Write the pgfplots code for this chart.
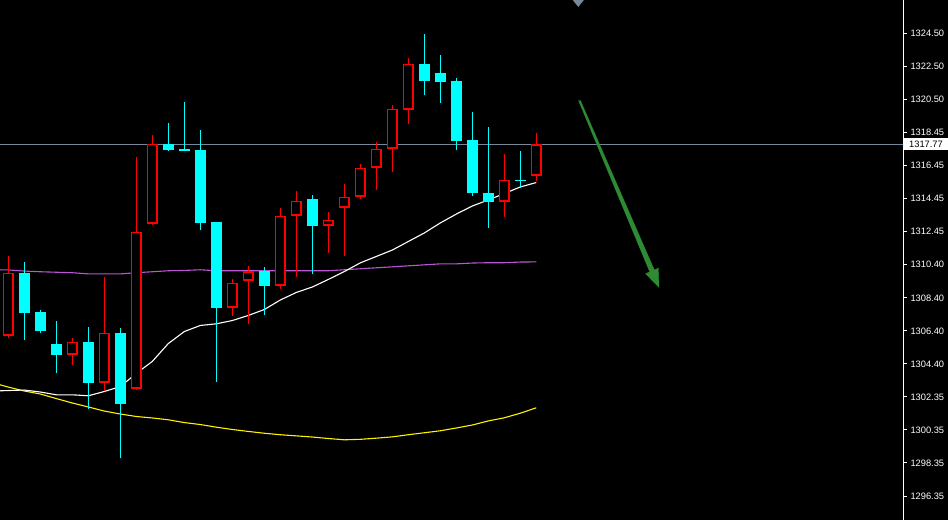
\documentclass[border=0pt]{standalone}
\usepackage{pgfplots}
\pgfplotsset{compat=1.18}
\usepackage{pgfplotstable}
\usepackage{fontspec}
\setmainfont{Liberation Sans}
\definecolor{upc}{RGB}{255,0,0}
\definecolor{dnc}{RGB}{0,255,255}
\definecolor{mapurple}{RGB}{186,85,211}
\definecolor{slate}{RGB}{119,136,153}
\definecolor{arrowgreen}{RGB}{46,139,52}

\pgfplotstableread{
i o h l c
0 1306.10 1310.93 1305.98 1309.94
4 1304.94 1305.94 1304.31 1305.74
6 1303.24 1309.65 1302.73 1306.28
8 1302.87 1317.01 1302.83 1312.43
9 1312.92 1318.35 1312.83 1317.79
14 1307.80 1309.57 1307.31 1309.33
15 1309.45 1310.32 1306.81 1310.03
17 1309.14 1313.85 1308.94 1313.40
18 1313.40 1314.94 1309.67 1314.32
20 1312.80 1313.61 1311.13 1313.16
21 1313.89 1315.37 1310.95 1314.56
22 1314.56 1316.57 1314.41 1316.33
23 1316.33 1317.87 1314.97 1317.48
24 1317.48 1320.12 1316.06 1319.92
25 1319.86 1322.98 1318.98 1322.66
31 1314.26 1317.14 1313.32 1315.60
33 1315.84 1318.47 1315.53 1317.77
}\upcandles

\pgfplotstableread{
i o h l c
1 1309.95 1310.62 1305.86 1307.48
2 1307.52 1307.70 1306.26 1306.38
3 1305.63 1307.03 1303.82 1304.92
5 1305.75 1306.61 1301.63 1303.22
7 1306.30 1306.55 1298.65 1301.94
10 1317.80 1319.06 1317.34 1317.40
11 1317.50 1320.36 1317.32 1317.34
12 1317.38 1318.60 1312.53 1312.95
13 1313.00 1313.00 1303.28 1307.78
16 1310.03 1310.26 1307.35 1309.12
19 1314.40 1314.70 1309.85 1312.77
26 1322.67 1324.50 1320.73 1321.64
27 1322.07 1323.22 1320.26 1321.54
28 1321.58 1321.82 1317.40 1317.94
29 1317.99 1319.75 1314.60 1314.78
30 1314.82 1318.84 1312.67 1314.23
32 1315.61 1317.32 1315.08 1315.51
}\dncandles

\pgfplotstableread{
i w p y
-0.6 1302.75 1310.12 1303.14
0 1302.77 1310.11 1302.98
1 1302.80 1310.04 1302.74
2 1302.68 1310.00 1302.56
3 1302.51 1309.97 1302.28
4 1302.51 1309.94 1302.01
5 1302.45 1309.87 1301.77
6 1302.71 1309.87 1301.52
7 1303.01 1309.87 1301.34
8 1303.81 1309.94 1301.19
9 1304.54 1310.00 1301.10
10 1305.63 1310.06 1300.99
11 1306.36 1310.08 1300.82
12 1306.73 1310.12 1300.70
13 1306.83 1310.06 1300.54
14 1307.03 1310.06 1300.40
15 1307.34 1310.06 1300.28
16 1307.70 1310.06 1300.17
17 1308.28 1310.06 1300.08
18 1308.74 1310.06 1300.01
19 1309.07 1310.06 1299.94
20 1309.53 1310.06 1299.85
21 1310.01 1310.12 1299.77
22 1310.54 1310.18 1299.80
23 1310.93 1310.24 1299.87
24 1311.32 1310.30 1299.95
25 1311.84 1310.36 1300.08
26 1312.36 1310.42 1300.20
27 1312.97 1310.48 1300.32
28 1313.51 1310.48 1300.49
29 1314.00 1310.53 1300.67
30 1314.37 1310.55 1300.92
31 1314.76 1310.55 1301.11
32 1315.16 1310.59 1301.39
33 1315.43 1310.60 1301.72
}\mas

\begin{document}
\begin{tikzpicture}
\fill[black] (0,0) rectangle (948pt,519pt);
\begin{axis}[
  at={(0,0)}, anchor=south west,
  scale only axis, width=903pt, height=519pt,
  xmin=-0.519, xmax=55.92, ymin=1294.92, ymax=1326.51,
  axis x line=none,
  axis y line*=right,
  y axis line style={draw=white, line width=1pt},
  xtick=\empty,
  ytick={1324.500,1322.489,1320.479,1318.468,1316.457,1314.447,1312.436,1310.425,1308.414,1306.404,1304.393,1302.382,1300.371,1298.361,1296.350},
  yticklabels={1324.50,1322.50,1320.50,1318.45,1316.45,1314.45,1312.45,1310.40,1308.40,1306.40,1304.40,1302.35,1300.35,1298.35,1296.35},
  tick align=outside, major tick length=3.5pt,
  y tick style={draw=white, line width=1pt},
  yticklabel style={font=\fontsize{9.3}{11}\selectfont, text=white, anchor=west, xshift=0.5pt},
  clip=true, clip marker paths=true,
]
% current price line
\addplot[draw=slate, line width=1.1pt, forget plot] coordinates {(-1,1317.77) (57,1317.77)};
% moving averages
\addplot[draw=yellow, line width=1.1pt, forget plot] table[x=i, y=y] {\mas};
\addplot[draw=mapurple, line width=1.1pt, forget plot] table[x=i, y=p] {\mas};
\addplot[draw=white, line width=1.1pt, forget plot] table[x=i, y=w] {\mas};
% wicks
\addplot[forget plot, draw=none, mark=none, error bars/.cd, y dir=plus, y explicit, error mark=none,
  error bar style={draw=upc, line width=1.4pt}]
  table[x=i, y=l, y error plus expr=\thisrow{h}-\thisrow{l}] {\upcandles};
\addplot[forget plot, draw=none, mark=none, error bars/.cd, y dir=plus, y explicit, error mark=none,
  error bar style={draw=dnc, line width=1.4pt}]
  table[x=i, y=l, y error plus expr=\thisrow{h}-\thisrow{l}] {\dncandles};
% bodies
\addplot[forget plot, draw=none, mark=none, error bars/.cd, y dir=plus, y explicit, error mark=none,
  error bar style={draw=dnc, line width=11pt}]
  table[x=i, y=c, y error plus expr=\thisrow{o}-\thisrow{c}] {\dncandles};
\addplot[forget plot, draw=none, mark=none, error bars/.cd, y dir=plus, y explicit, error mark=none,
  error bar style={draw=upc, line width=11pt}]
  table[x=i, y=o, y error plus expr=\thisrow{c}-\thisrow{o}] {\upcandles};
\addplot[forget plot, draw=none, mark=none, error bars/.cd, y dir=plus, y explicit, error mark=none,
  error bar style={draw=black, line width=7.9pt}]
  table[x=i, y expr=\thisrow{o}+0.095, y error plus expr=\thisrow{c}-\thisrow{o}-0.19] {\upcandles};
% arrow
\addplot[fill=arrowgreen, draw=arrowgreen, line width=0.3pt, forget plot] coordinates {
  (35.64,1320.42) (40.09,1309.99) (39.83,1309.88) (40.67,1309.04) (40.63,1310.22) (40.375,1310.11) (35.76,1320.42)} -- cycle;
% marker at top
\addplot[only marks, mark=diamond*, mark size=6pt, mark options={fill=slate, draw=slate, xscale=1.1}, forget plot]
  coordinates {(35.625,1326.51)};
\coordinate (cp) at (axis cs:55.92,1317.77);
\end{axis}
\node[fill=white, text=black, anchor=west, inner xsep=0pt, inner ysep=0pt, minimum width=44pt, minimum height=12pt,
  font=\fontsize{9.3}{11}\selectfont, xshift=0.8pt] at (cp) {1317.77};
\end{tikzpicture}
\end{document}
